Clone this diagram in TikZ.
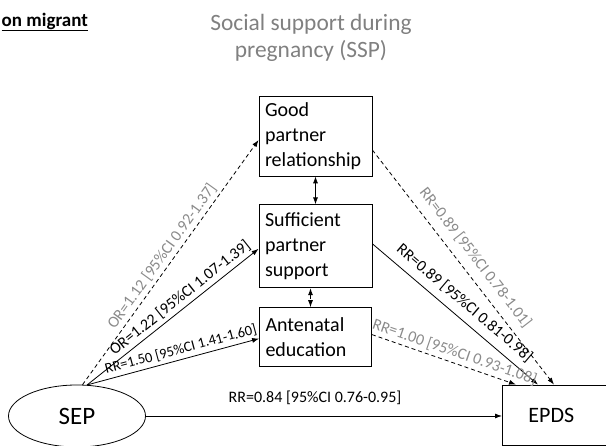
\documentclass[tikz,border=0pt]{standalone}
\usepackage{fontspec}
\setmainfont{Carlito}
\usetikzlibrary{arrows.meta,positioning,shapes.geometric}
\definecolor{lgray}{HTML}{8A8A8A}
\definecolor{tgray}{HTML}{808080}

\begin{document}
\begin{tikzpicture}[x=1pt,y=1pt,>={Latex[length=7pt,width=5pt]},line width=0.8pt,
  box/.style={draw, align=left, inner xsep=6pt, inner ysep=0pt, font=\fontsize{20}{25}\selectfont},
  lab/.style={font=\fontsize{16}{18}\selectfont, sloped, above},
  dsh/.style={dash pattern=on 4pt off 3pt}]
\useasboundingbox (0,0) rectangle (606,446);
\clip (0,0) rectangle (606,446);
\node[anchor=west, font=\bfseries\fontsize{19}{22}\selectfont] (grp) at (-2,424) {\underline{on migrant}};
\node[text=tgray, align=center, font=\fontsize{23.4}{27}\selectfont] (ssp) at (311,408) {Social support during\\pregnancy (SSP)};
\node[box, text width=101pt, minimum width=113pt, minimum height=80pt] (good) at (315.5,310) {Good\\partner\\relationship};
\node[box, text width=101pt, minimum width=113pt, minimum height=83pt, below=28pt of good] (supp) {Sufficient\\partner\\support};
\node[box, text width=100pt, minimum width=112pt, minimum height=59pt, below=19pt of supp] (ante) {Antenatal\\education};
\node[draw, ellipse, minimum width=137pt, minimum height=62pt, font=\fontsize{25}{30}\selectfont] (sep) at (77,30) {SEP};
\node[draw, anchor=west, align=left, minimum height=60pt, text width=80pt, inner xsep=26pt, font=\fontsize{22}{26}\selectfont] (epds) at (502,31) {EPDS};
% paths from SEP to the three kinds of support
\draw[->, dsh] (sep.80) -- node[lab, text=lgray, pos=0.5] {OR=1.12 [95\%CI 0.92-1.37]} ([yshift=-4pt]good.west);
\draw[->] (sep.72) -- node[lab, pos=0.58] {OR=1.22 [95\%CI 1.07-1.39]} ([yshift=-2.5pt]supp.west);
\draw[->] (sep.72) -- node[lab, pos=0.56, font=\fontsize{14.5}{16}\selectfont] {RR=1.50 [95\%CI 1.41-1.60]} ([yshift=-1.5pt]ante.west);
% paths from support to EPDS
\draw[->, dsh] ([yshift=-14pt]good.east) -- node[lab, text=lgray, pos=0.5, above=5pt] {RR=0.89 [95\%CI 0.78-1.01]} ([xshift=52pt]epds.north west);
\draw[->] ([yshift=2.5pt]supp.east) -- node[lab, pos=0.5, above=4pt] {RR=0.89 [95\%CI 0.81-0.98]} ([xshift=36pt]epds.north west);
\draw[->, dsh] ([yshift=2.5pt]ante.east) -- node[lab, text=lgray, pos=0.55] {RR=1.00 [95\%CI 0.93-1.08]} ([xshift=14pt]epds.north west);
\draw[<->] (good.south) -- (supp.north);
\draw[<->, dsh] ([xshift=-5pt]supp.south) -- ([xshift=-5pt]supp.south |- ante.north);
% direct path
\draw[->] (sep.east) -- node[above=8pt, pos=0.475, font=\fontsize{16}{18}\selectfont] {RR=0.84 [95\%CI 0.76-0.95]} (sep.east -| epds.west);
\end{tikzpicture}
\end{document}
